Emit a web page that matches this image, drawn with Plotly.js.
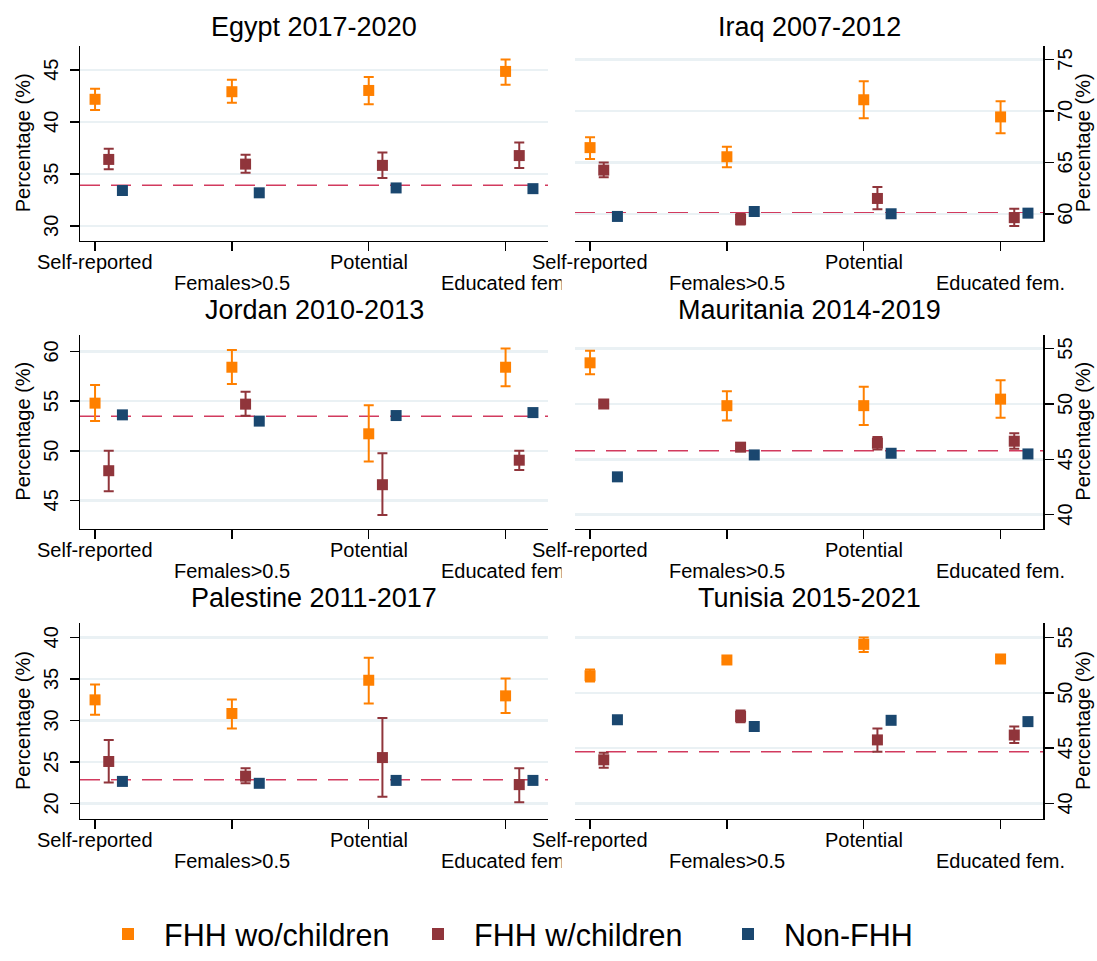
<!DOCTYPE html>
<html>
<head>
<meta charset="utf-8">
<script src="https://cdn.plot.ly/plotly-3.0.1.min.js"></script>
<style>html,body{margin:0;padding:0;background:#fff;}#chart{width:1097px;height:961px;}</style>
</head>
<body>
<div id="chart"></div>
<script>
// ---------- DATA ----------
const categories = ["Self-reported", "Females>0.5", "Potential", "Educated fem."];
const seriesNames = ["FHH wo/children", "FHH w/children", "Non-FHH"];

// Egypt 2017-2020
const egyptWo   = [42.17, 42.90, 43.02, 44.85];
const egyptWoLo = [41.13, 41.83, 41.70, 43.56];
const egyptWoHi = [43.18, 44.06, 44.31, 46.00];
const egyptW    = [36.39, 35.94, 35.82, 36.76];
const egyptWLo  = [35.44, 35.10, 34.60, 35.57];
const egyptWHi  = [37.42, 36.83, 37.05, 38.02];
const egyptNon  = [33.40, 33.18, 33.65, 33.58];
const egyptRef  = 33.90;
const egyptTicks = [30, 35, 40, 45];

// Iraq 2007-2012
const iraqWo   = [66.44, 65.55, 71.10, 69.43];
const iraqWoLo = [65.33, 64.53, 69.30, 67.84];
const iraqWoHi = [67.46, 66.53, 72.90, 70.95];
const iraqW    = [64.25, 59.46, 61.49, 59.62];
const iraqWLo  = [63.55, 58.95, 60.44, 58.82];
const iraqWHi  = [64.98, 59.97, 62.60, 60.48];
const iraqNon  = [59.74, 60.22, 60.00, 60.06];
const iraqRef  = 60.10;
const iraqTicks = [60, 65, 70, 75];

// Jordan 2010-2013
const jordanWo   = [54.80, 58.42, 51.71, 58.42];
const jordanWoLo = [52.99, 56.74, 48.91, 56.51];
const jordanWoHi = [56.64, 60.16, 54.60, 60.30];
const jordanW    = [47.99, 54.70, 46.58, 49.05];
const jordanWLo  = [45.92, 53.52, 43.52, 48.06];
const jordanWHi  = [50.00, 55.95, 49.74, 50.00];
const jordanNon  = [53.62, 52.99, 53.55, 53.85];
const jordanRef  = 53.49;
const jordanTicks = [45, 50, 55, 60];

// Mauritania 2014-2019
const mauritaniaWo   = [53.72, 49.85, 49.85, 50.44];
const mauritaniaWoLo = [52.68, 48.50, 48.11, 48.76];
const mauritaniaWoHi = [54.81, 51.15, 51.56, 52.15];
const mauritaniaW    = [50.00, 46.10, 46.46, 46.64];
const mauritaniaWLo  = [49.85, 45.95, 45.90, 45.96];
const mauritaniaWHi  = [50.15, 46.25, 47.02, 47.35];
const mauritaniaNon  = [43.42, 45.40, 45.55, 45.49];
const mauritaniaRef  = 45.78;
const mauritaniaTicks = [40, 45, 50, 55];

// Palestine 2011-2017
const palestineWo   = [32.49, 30.85, 34.85, 32.97];
const palestineWoLo = [30.69, 29.04, 32.06, 30.92];
const palestineWoHi = [34.34, 32.53, 37.56, 35.05];
const palestineW    = [25.07, 23.30, 25.54, 22.28];
const palestineWLo  = [22.55, 22.44, 20.83, 20.16];
const palestineWHi  = [27.66, 24.24, 30.29, 24.24];
const palestineNon  = [22.67, 22.44, 22.79, 22.79];
const palestineRef  = 22.87;
const palestineTicks = [20, 25, 30, 35, 40];

// Tunisia 2015-2021
const tunisiaWo   = [51.55, 52.97, 54.38, 53.06];
const tunisiaWoLo = [51.02, 52.82, 53.70, 52.91];
const tunisiaWoHi = [52.11, 53.12, 55.00, 53.21];
const tunisiaW    = [43.95, 47.87, 45.75, 46.19];
const tunisiaWLo  = [43.24, 47.35, 44.69, 45.46];
const tunisiaWHi  = [44.60, 48.40, 46.78, 46.96];
const tunisiaNon  = [47.57, 46.96, 47.52, 47.40];
const tunisiaRef  = 44.69;
const tunisiaTicks = [40, 45, 50, 55];

// ---------- PANELS (built from the arrays above) ----------
const panels = [
  {title: "Egypt 2017-2020",      wo: egyptWo, woLo: egyptWoLo, woHi: egyptWoHi, w: egyptW, wLo: egyptWLo, wHi: egyptWHi, non: egyptNon, ref: egyptRef, ticks: egyptTicks, yr: [28.56, 47.32]},
  {title: "Iraq 2007-2012",       wo: iraqWo, woLo: iraqWoLo, woHi: iraqWoHi, w: iraqW, wLo: iraqWLo, wHi: iraqWHi, non: iraqNon, ref: iraqRef, ticks: iraqTicks, yr: [57.36, 76.36]},
  {title: "Jordan 2010-2013",     wo: jordanWo, woLo: jordanWoLo, woHi: jordanWoHi, w: jordanW, wLo: jordanWLo, wHi: jordanWHi, non: jordanNon, ref: jordanRef, ticks: jordanTicks, yr: [42.14, 61.71]},
  {title: "Mauritania 2014-2019", wo: mauritaniaWo, woLo: mauritaniaWoLo, woHi: mauritaniaWoHi, w: mauritaniaW, wLo: mauritaniaWLo, wHi: mauritaniaWHi, non: mauritaniaNon, ref: mauritaniaRef, ticks: mauritaniaTicks, yr: [38.73, 56.27]},
  {title: "Palestine 2011-2017",  wo: palestineWo, woLo: palestineWoLo, woHi: palestineWoHi, w: palestineW, wLo: palestineWLo, wHi: palestineWHi, non: palestineNon, ref: palestineRef, ticks: palestineTicks, yr: [18.19, 41.69]},
  {title: "Tunisia 2015-2021",    wo: tunisiaWo, woLo: tunisiaWoLo, woHi: tunisiaWoHi, w: tunisiaW, wLo: tunisiaWLo, wHi: tunisiaWHi, non: tunisiaNon, ref: tunisiaRef, ticks: tunisiaTicks, yr: [38.64, 56.27]}
];

// ---------- STYLE / LAYOUT ----------
const W = 1097, H = 961;
const FONT = "Liberation Sans, Arial, Helvetica, sans-serif";
const colors = ["#ff8000", "#90353b", "#1a476f"];
const offsets = [0, 0.1, 0.2];
const colPx = [[80, 548], [575, 1043]];
const rowPx = [[46.7, 246], [341.7, 540], [636.7, 836]];
const titlePx = [28, 317, 611];
const yLabelPx = [51, 1065];
const yTitlePx = [23, 1083];
const fx = p => p / W;
const fy = p => 1 - p / H;

const traces = [];
const layout = {
  width: W, height: H,
  margin: {l: 0, r: 0, t: 0, b: 0},
  paper_bgcolor: "#ffffff",
  plot_bgcolor: "#ffffff",
  font: {family: FONT, color: "#000000", size: 20},
  showlegend: true,
  legend: {
    orientation: "h", x: fx(92), xanchor: "left", y: fy(927), yanchor: "top",
    font: {size: 30.5, family: FONT, color: "#000"}, itemsizing: "constant", itemwidth: 62,
    entrywidth: 233, entrywidthmode: "pixels", bgcolor: "rgba(0,0,0,0)"
  },
  shapes: [],
  annotations: []
};

const leftLabelAnn = [], rightLabelAnn = [], otherAnn = [];

panels.forEach((p, i) => {
  const col = i % 2, row = Math.floor(i / 2);
  const n = i + 1;
  const xa = "x" + (n === 1 ? "" : n), ya = "y" + (n === 1 ? "" : n);
  const xKey = "xaxis" + (n === 1 ? "" : n), yKey = "yaxis" + (n === 1 ? "" : n);
  const [x0, x1] = colPx[col], [y0, y1] = rowPx[row];

  layout[xKey] = {
    domain: [fx(x0), fx(x1)], anchor: ya, range: [0.89, 4.31],
    tickmode: "array", tickvals: categories.map((_, k) => k + 1), showticklabels: false,
    ticks: "outside", ticklen: 9, tickwidth: 1.5, tickcolor: "#000",
    showline: true, linecolor: "#000", linewidth: 1.5, showgrid: false, zeroline: false, fixedrange: true
  };
  layout[yKey] = {
    domain: [fy(y1), fy(y0)], anchor: xa, range: p.yr, side: col === 0 ? "left" : "right",
    tickmode: "array", tickvals: p.ticks, showticklabels: false,
    ticks: "outside", ticklen: 9, tickwidth: 1.5, tickcolor: "#000",
    showline: true, linecolor: "#000", linewidth: 1.5,
    showgrid: true, gridcolor: "#eaf1f4", gridwidth: 2.5, zeroline: false, fixedrange: true
  };

  const vals = [p.wo, p.w, p.non];
  const lo = [p.woLo, p.wLo, null];
  const hi = [p.woHi, p.wHi, null];
  for (let s = 0; s < 3; s++) {
    const t = {
      type: "scatter", mode: "markers", name: seriesNames[s], legendgroup: seriesNames[s],
      showlegend: i === 0, xaxis: xa, yaxis: ya,
      x: categories.map((_, k) => k + 1 + offsets[s]), y: vals[s],
      marker: {symbol: "square", size: 11, color: colors[s]},
      hoverinfo: "skip", cliponaxis: false
    };
    if (lo[s]) {
      t.error_y = {
        type: "data", symmetric: false,
        array: hi[s].map((h, k) => h - vals[s][k]),
        arrayminus: lo[s].map((l, k) => vals[s][k] - l),
        color: colors[s], thickness: 2, width: 5
      };
    }
    traces.push(t);
  }

  // reference dashed line
  layout.shapes.push({
    type: "line", xref: xa + " domain", yref: ya, x0: 0, x1: 1, y0: p.ref, y1: p.ref,
    layer: "below", line: {color: "#d23a5e", width: 1.5, dash: "20px,11px"}
  });

  // x tick labels (staggered in two rows)
  categories.forEach((c, k) => {
    const a = {
      xref: xa, yref: "paper", x: k + 1, y: fy(y1 + (k % 2 === 0 ? 22 : 43)),
      text: c, showarrow: false, xanchor: "center", yanchor: "middle",
      font: {size: 20, family: FONT, color: "#000"}
    };
    (col === 0 ? leftLabelAnn : rightLabelAnn).push(a);
  });

  // y tick labels (vertical)
  p.ticks.forEach(v => {
    otherAnn.push({
      xref: "paper", yref: ya, x: fx(yLabelPx[col]), y: v,
      text: String(v), showarrow: false, textangle: -90, xanchor: "center", yanchor: "middle",
      font: {size: 20, family: FONT, color: "#000"}
    });
  });

  // panel title
  otherAnn.push({
    xref: "paper", yref: "paper", x: fx((x0 + x1) / 2), y: fy(titlePx[row]),
    text: p.title, showarrow: false, xanchor: "center", yanchor: "middle",
    font: {size: 27, family: FONT, color: "#000"}
  });
  // y axis title
  otherAnn.push({
    xref: "paper", yref: "paper", x: fx(yTitlePx[col]), y: fy((y0 + y1) / 2),
    text: "Percentage (%)", showarrow: false, textangle: -90, xanchor: "center", yanchor: "middle",
    font: {size: 20, family: FONT, color: "#000"}
  });
});

// white masks: the right-hand graphs are laid over the left ones and cut their last label
const masks = rowPx.map(r => ({
  xref: "paper", yref: "paper", x: fx(561), y: fy(r[1] + 43), xanchor: "left", yanchor: "middle",
  text: " ", showarrow: false, width: 13, height: 26, bgcolor: "#ffffff", borderpad: 0,
  font: {size: 20, family: FONT}
}));

layout.annotations = [].concat(leftLabelAnn, masks, rightLabelAnn, otherAnn);

Plotly.newPlot("chart", traces, layout, {displayModeBar: false, staticPlot: true});
</script>
</body>
</html>
